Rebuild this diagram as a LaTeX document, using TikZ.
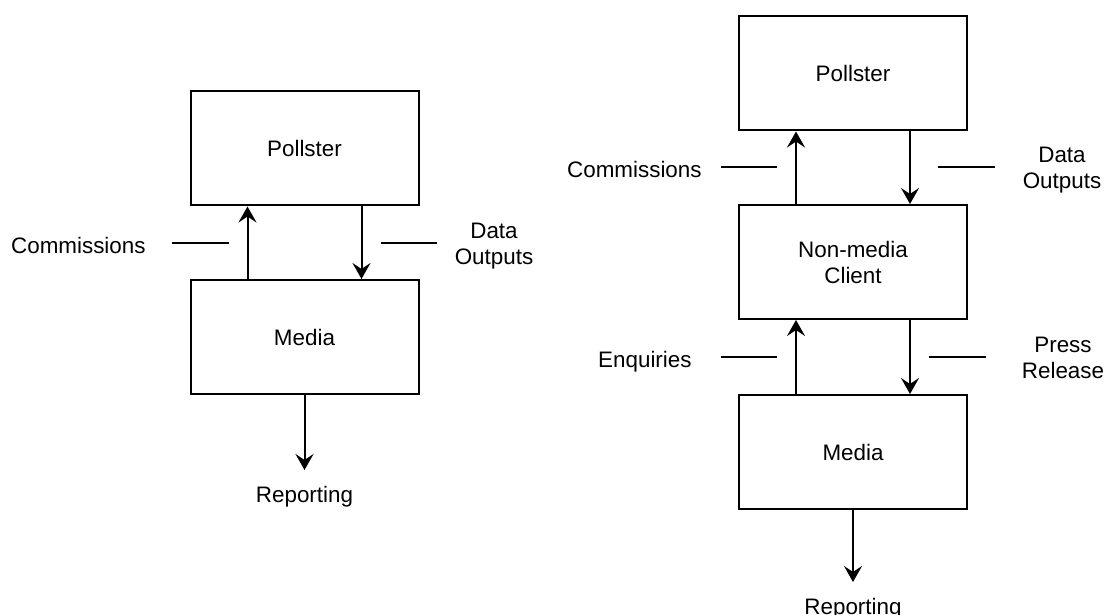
\documentclass[tikz,border=0pt]{standalone}
\usepackage{fontspec}
\setmainfont{Liberation Sans}
\usetikzlibrary{arrows.meta}
\tikzset{
  box/.style={draw, line width=1pt, minimum width=114pt, minimum height=57pt, align=center, inner sep=0pt},
  lbl/.style={align=center, inner sep=0pt},
  rep/.style={lbl, anchor=north, inner ysep=8pt},
  flow/.style={line width=1pt, -{Stealth[length=8pt,width=9pt,inset=3pt]}},
  tick/.style={line width=0.8pt}
}
\begin{document}
\begin{tikzpicture}[x=0.5pt, y=-0.5pt, font=\fontsize{11.2pt}{13pt}\selectfont]
\useasboundingbox (0,0) rectangle (1104,615);
\def\ao{28.5pt} %offset of the arrows from the box centre

% left chain: media works with the pollster directly
\node[box] (pollL) at (304.5,148.5) {Pollster};
\node[box] (mediaL) at (304.5,337) {Media};
\node[rep] (repL) at (304.5,470) {Reporting};
\node[lbl, anchor=base east] (comL) at (146,253) {Commissions};
\node[lbl, anchor=north] (datL) at (494,223) {Data\\Outputs};

% right chain: a non-media client sits in between
\node[box] (pollR) at (853,73.5) {Pollster};
\node[box] (clientR) at (853,262) {Non-media\\Client};
\node[box] (mediaR) at (853,452) {Media};
\node[rep] (repR) at (853,582) {Reporting};
\node[lbl, anchor=base east] (comR) at (702,177) {Commissions};
\node[lbl, anchor=base east] (enqR) at (692,367) {Enquiries};
\node[lbl, anchor=north] (datR) at (1062,147) {Data\\Outputs};
\node[lbl, anchor=north] (prsR) at (1063,337) {Press\\Release};

% up and down arrows between the boxes
\foreach \lo/\hi in {mediaL/pollL, clientR/pollR, mediaR/clientR}
{
\draw[flow] ([xshift=-\ao]\lo.north) -- ([xshift=-\ao]\hi.south);
\draw[flow] ([xshift=\ao]\hi.south) -- ([xshift=\ao]\lo.north);
}
\draw[flow] (mediaL.south) -- (repL.north);
\draw[flow] (mediaR.south) -- (repR.north);

% short strokes next to the labels
\foreach \xa/\xb/\y in {172/229/243, 381/437/243, 721/777/167, 938/995/167, 721/777/357, 929/986/357}
\draw[tick] (\xa,\y) -- (\xb,\y);
\end{tikzpicture}
\end{document}
